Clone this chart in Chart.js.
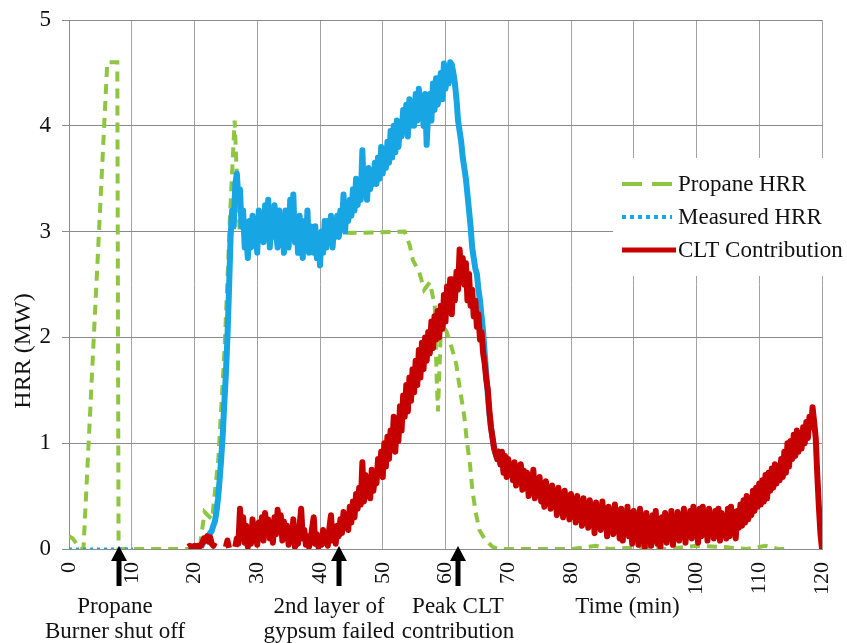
<!DOCTYPE html>
<html>
<head>
<meta charset="utf-8">
<title>HRR (MW)</title>
<script src="https://cdn.jsdelivr.net/npm/chart.js@4/dist/chart.umd.min.js"></script>
<style>
  html, body { margin: 0; padding: 0; background: #ffffff; }
  #wrap { width: 847px; height: 643px; }
</style>
</head>
<body>
<div id="wrap"><canvas id="hrr" width="847" height="643"></canvas></div>
<script>
// ---- Series names and axis text ----
const seriesNames = ['Propane HRR', 'Measured HRR', 'CLT Contribution'];
const xTitle = 'Time (min)';
const yTitle = 'HRR (MW)';
const xTicks = [0, 10, 20, 30, 40, 50, 60, 70, 80, 90, 100, 110, 120];
const yTicks = [0, 1, 2, 3, 4, 5];

// ---- Propane burner output (MW) at the listed times (min) ----
const propaneTime = [0, 0.6, 1.2, 1.8, 2.3, 6.1, 7.7, 7.9,
  20.8, 21.6, 22.8, 23.8, 24.8, 25.7, 26.4, 26.8, 27.2, 40, 53.5,
  54.3, 54.8, 55.8, 56.6, 57.5, 58.3, 58.6, 58.8, 59.3,
  60.2, 61.0, 61.7, 62.2, 62.6, 63.0, 63.4, 63.9, 64.3, 64.8, 65.4, 66.2, 67.5, 68.5,
  80, 84, 86, 92, 95, 100, 104, 108, 111, 113, 115];
const propaneValues = [0.12, 0.10, 0.05, 0.0, 0.0, 4.6, 4.6, 0.0,
  0.0, 0.35, 0.28, 0.85, 1.9, 3.2, 4.05, 3.45, 3.0, 2.98, 3.0,
  2.87, 2.73, 2.62, 2.45, 2.52, 2.3, 1.6, 1.3, 2.15,
  2.05, 1.9, 1.75, 1.55, 1.4, 1.25, 1.02, 0.8, 0.55, 0.35, 0.18, 0.1, 0.02, 0.0,
  0.0, 0.03, 0.0, 0.02, 0.0, 0.03, 0.02, 0.0, 0.03, 0.0, 0.0];

// ---- Measured HRR (MW) ----
// before ignition of the room: flat reading
const measuredEarlyTime = [0, 10.2];
const measuredEarlyValues = [0, 0];
// from 21 min on, sampled every 0.25 min
const measuredStart = 21;
const measuredStep = 0.25;
const measuredValues = [
  0.02, 0.04, 0.07, 0.09, 0.11, 0.13, 0.15, 0.17,   // 21
  0.22, 0.26, 0.35, 0.48, 0.65, 0.85, 1.08, 1.38,   // 23
  1.65, 2.00, 2.45, 2.95, 3.20, 3.05, 3.45, 3.55,   // 25
  3.30, 3.40, 3.05, 3.20, 2.85, 2.95, 2.75, 3.10,   // 27
  2.85, 3.15, 2.90, 3.00, 2.80, 3.20, 2.95, 3.10,   // 29
  2.90, 3.25, 3.00, 3.30, 2.85, 3.15, 2.95, 3.25,   // 31
  3.00, 2.85, 3.20, 2.90, 3.10, 2.80, 3.20, 3.00,   // 33
  2.85, 3.30, 3.05, 3.35, 2.90, 3.10, 2.80, 3.15,   // 35
  2.90, 2.75, 3.10, 2.85, 3.20, 2.80, 3.05, 2.90,   // 37
  2.80, 3.05, 2.75, 2.95, 2.68, 3.00, 2.80, 3.10,   // 39
  2.85, 3.10, 2.90, 3.15, 2.85, 3.05, 2.95, 3.15,   // 41
  2.95, 3.20, 3.05, 3.35, 3.00, 3.25, 3.10, 3.30,   // 43
  3.15, 3.40, 3.20, 3.50, 3.25, 3.45, 3.30, 3.77,   // 45
  3.35, 3.55, 3.30, 3.60, 3.40, 3.50, 3.45, 3.65,   // 47
  3.45, 3.70, 3.50, 3.80, 3.55, 3.75, 3.60, 3.85,   // 49
  3.65, 3.95, 3.70, 4.00, 3.75, 4.05, 3.80, 4.00,   // 51
  3.90, 4.15, 3.95, 4.20, 3.90, 4.25, 4.00, 4.20,   // 53
  4.00, 4.30, 4.05, 4.35, 4.10, 4.25, 4.00, 4.30,   // 55
  3.82, 4.15, 4.30, 4.05, 4.40, 4.15, 4.45, 4.20,   // 57
  4.30, 4.50, 4.25, 4.59, 4.35, 4.55, 4.40, 4.60,   // 59
  4.58, 4.50, 4.40, 4.25, 4.05, 3.95, 3.85, 3.70,   // 61
  3.60, 3.50, 3.35, 3.20, 3.05, 2.85, 2.75, 2.65,   // 63
  2.60, 2.45, 2.35, 2.20, 2.05, 1.85, 1.65, 1.45,   // 65
  1.28, 1.15, 1.05, 0.95, 0.90, 0.85, 0.92, 0.80,   // 67
  0.90, 0.75, 0.85, 0.70, 0.82                      // 69 - 70
];

// ---- CLT contribution (MW), sampled every 0.25 min from t = 19 ----
const cltStart = 19;
const cltStep = 0.25;
const cltValues = [
  0.02, 0.03, 0.02, 0.02, 0.03, 0.02, 0.03, 0.02,   // 19
  0.03, 0.06, 0.10, 0.08, 0.12, 0.07, 0.11, 0.05,   // 21
  0.03, 0.06, null, null, null, null, null, null,   // 23
  0.02, 0.08, 0.01, null, null, null, 0.02, 0.10,   // 25
  0.05, 0.38, 0.12, 0.30, 0.06, 0.22, 0.02, 0.18,   // 27
  0.05, 0.28, 0.10, 0.20, 0.04, 0.25, 0.12, 0.30,   // 29
  0.08, 0.34, 0.18, 0.28, 0.10, 0.22, 0.06, 0.30,   // 31
  0.14, 0.37, 0.20, 0.32, 0.08, 0.26, 0.12, 0.22,   // 33
  0.04, 0.20, 0.08, 0.28, 0.02, 0.15, 0.05, 0.22,   // 35
  0.38, 0.10, 0.18, 0.04, 0.12, 0.02, 0.08, 0.20,   // 37
  0.30, 0.05, 0.14, 0.02, 0.10, 0.04, 0.18, 0.06,   // 39
  0.12, 0.03, 0.20, 0.32, 0.08, 0.18, 0.05, 0.22,   // 41
  0.12, 0.28, 0.15, 0.35, 0.20, 0.30, 0.18, 0.40,   // 43
  0.25, 0.45, 0.30, 0.52, 0.38, 0.58, 0.42, 0.82,   // 45
  0.45, 0.70, 0.50, 0.65, 0.48, 0.75, 0.55, 0.68,   // 47
  0.62, 0.85, 0.70, 0.92, 0.68, 1.00, 0.78, 1.06,   // 49
  0.85, 1.12, 0.95, 1.25, 0.92, 1.20, 1.02, 1.35,   // 51
  1.12, 1.45, 1.25, 1.55, 1.30, 1.62, 1.40, 1.70,   // 53
  1.48, 1.78, 1.55, 1.88, 1.62, 1.95, 1.70, 2.00,   // 55
  1.78, 2.05, 1.85, 2.15, 1.90, 2.20, 1.98, 2.25,   // 57
  2.00, 2.30, 2.08, 2.40, 2.15, 2.48, 2.25, 2.55,   // 59
  2.22, 2.55, 2.35, 2.62, 2.45, 2.83, 2.55, 2.75,   // 61
  2.50, 2.70, 2.35, 2.60, 2.30, 2.45, 2.20, 2.35,   // 63
  2.10, 2.22, 1.98, 2.05, 1.85, 1.75, 1.60, 1.50,   // 65
  1.30, 1.15, 1.05, 0.95, 0.90, 0.85, 0.92, 0.80,   // 67
  0.92, 0.72, 0.88, 0.68, 0.85, 0.70, 0.80, 0.65,   // 69
  0.82, 0.60, 0.78, 0.62, 0.80, 0.56, 0.74, 0.58,   // 71
  0.72, 0.50, 0.68, 0.55, 0.75, 0.48, 0.66, 0.52,   // 73
  0.68, 0.45, 0.62, 0.40, 0.64, 0.48, 0.58, 0.38,   // 75
  0.60, 0.42, 0.55, 0.32, 0.58, 0.40, 0.52, 0.30,   // 77
  0.55, 0.36, 0.50, 0.28, 0.52, 0.34, 0.46, 0.25,   // 79
  0.50, 0.30, 0.45, 0.22, 0.48, 0.32, 0.42, 0.20,   // 81
  0.46, 0.28, 0.40, 0.15, 0.44, 0.25, 0.38, 0.18,   // 83
  0.45, 0.22, 0.38, 0.12, 0.40, 0.20, 0.35, 0.14,   // 85
  0.42, 0.18, 0.36, 0.10, 0.38, 0.08, 0.32, 0.15,   // 87
  0.40, 0.12, 0.34, 0.05, 0.36, 0.14, 0.30, 0.04,   // 89
  0.38, 0.10, 0.30, 0.02, 0.34, 0.12, 0.28, 0.03,   // 91
  0.32, 0.08, 0.36, 0.05, 0.28, 0.02, 0.30, 0.10,   // 93
  0.34, 0.06, 0.30, 0.12, 0.36, 0.04, 0.28, 0.10,   // 95
  0.35, 0.08, 0.32, 0.15, 0.38, 0.06, 0.30, 0.12,   // 97
  0.36, 0.10, 0.40, 0.15, 0.34, 0.06, 0.38, 0.12,   // 99
  0.40, 0.14, 0.35, 0.08, 0.38, 0.16, 0.32, 0.10,   // 101
  0.36, 0.12, 0.38, 0.08, 0.34, 0.15, 0.30, 0.10,   // 103
  0.38, 0.12, 0.40, 0.18, 0.35, 0.10, 0.36, 0.20,   // 105
  0.42, 0.22, 0.46, 0.25, 0.50, 0.28, 0.48, 0.32,   // 107
  0.55, 0.36, 0.58, 0.40, 0.62, 0.42, 0.65, 0.45,   // 109
  0.70, 0.48, 0.72, 0.55, 0.76, 0.58, 0.80, 0.62,   // 111
  0.78, 0.65, 0.85, 0.68, 0.92, 0.72, 1.00, 0.78,   // 113
  1.02, 0.85, 1.08, 0.88, 1.12, 0.92, 1.05, 0.95,   // 115
  1.15, 1.00, 1.20, 1.05, 1.25, 1.15, 1.34, 1.20,   // 117
  1.05, 0.70, 0.40, 0.15, 0.00                      // 119 - 120
];

// ---- Test events marked under the time axis ----
const eventTimes = [8, 43, 62];
const eventLabels = [
  ['Propane', 'Burner shut off'],
  ['2nd layer of', 'gypsum failed'],
  ['Peak CLT', 'contribution']
];

// ---- Styling ----
const SERIF = '"Liberation Serif", "Times New Roman", serif';
const colGreen = '#8fc641';
const colBlue = '#17a5e3';
const colRed = '#c60000';
const inkColor = '#111111';

const propanePts = propaneTime.map((t, i) => ({ x: t, y: propaneValues[i] }));
const measuredPts = measuredEarlyTime.map((t, i) => ({ x: t, y: measuredEarlyValues[i] }))
  .concat([{ x: 15, y: null }])
  .concat(measuredValues.map((v, i) => ({ x: measuredStart + i * measuredStep, y: v })));
const cltPts = cltValues.map((v, i) => ({ x: cltStart + i * cltStep, y: v }));

// Legend samples drawn in a white box on the right of the plot
const legendStyles = [
  { color: colGreen, width: 4, dash: [20, 10] },
  { color: colBlue, width: 4, dash: [4, 4] },
  { color: colRed, width: 5, dash: [] }
];

const overlay = {
  id: 'overlay',
  afterDraw(chart) {
    const { ctx, scales: { x } } = chart;
    ctx.save();
    ctx.fillStyle = inkColor;

    // vertical axis title
    ctx.save();
    ctx.font = '24px ' + SERIF;
    ctx.translate(24, 351);
    ctx.rotate(-Math.PI / 2);
    ctx.textAlign = 'center';
    ctx.textBaseline = 'middle';
    ctx.fillText(yTitle, 0, 0);
    ctx.restore();

    // horizontal axis title
    ctx.font = '23px ' + SERIF;
    ctx.textAlign = 'center';
    ctx.textBaseline = 'middle';
    ctx.fillText(xTitle, x.getPixelForValue(89), 607);

    // event arrows with their captions
    const captionShift = [-4, -10, 0];
    eventTimes.forEach((t, i) => {
      const px = Math.round(x.getPixelForValue(t));
      ctx.fillStyle = '#000000';
      ctx.beginPath();
      ctx.moveTo(px, 546);
      ctx.lineTo(px - 8, 561);
      ctx.lineTo(px + 8, 561);
      ctx.closePath();
      ctx.fill();
      ctx.fillRect(px - 2.5, 558, 5, 28);
      ctx.fillStyle = inkColor;
      eventLabels[i].forEach((line, k) => {
        ctx.fillText(line, px + captionShift[i], 607 + k * 25);
      });
    });

    // legend
    const lx = 613, ly = 158;
    ctx.fillStyle = '#ffffff';
    ctx.fillRect(lx, ly, 847 - lx, 118);
    const rows = [184, 217, 250];
    chart.data.datasets.forEach((ds, i) => {
      const st = legendStyles[i];
      ctx.save();
      ctx.strokeStyle = st.color;
      ctx.lineWidth = st.width;
      ctx.setLineDash(st.dash);
      ctx.beginPath();
      ctx.moveTo(622, rows[i]);
      ctx.lineTo(i === 2 ? 676 : 672, rows[i]);
      ctx.stroke();
      ctx.restore();
      ctx.fillStyle = inkColor;
      ctx.textAlign = 'left';
      ctx.textBaseline = 'middle';
      ctx.font = '23px ' + SERIF;
      ctx.fillText(ds.label, 678, rows[i] + 1);
    });
    ctx.restore();
  }
};

new Chart(document.getElementById('hrr'), {
  type: 'line',
  data: {
    datasets: [
      {
        label: seriesNames[0],
        data: propanePts,
        borderColor: colGreen,
        borderWidth: 4,
        borderDash: [10, 7],
        pointRadius: 0,
        tension: 0,
        order: 2
      },
      {
        label: seriesNames[1],
        data: measuredPts,
        borderColor: colBlue,
        borderWidth: 6,
        borderJoinStyle: 'round',
        pointRadius: 0,
        tension: 0,
        spanGaps: false,
        segment: {
          borderDash: c => (c.p0.parsed.y === 0 && c.p1.parsed.y === 0) ? [3, 4] : undefined,
          borderWidth: c => (c.p0.parsed.y === 0 && c.p1.parsed.y === 0) ? 3 : undefined
        },
        order: 1
      },
      {
        label: seriesNames[2],
        data: cltPts,
        borderColor: colRed,
        borderWidth: 6,
        borderJoinStyle: 'round',
        pointRadius: 0,
        tension: 0,
        spanGaps: false,
        order: 0
      }
    ]
  },
  options: {
    responsive: false,
    animation: false,
    events: [],
    layout: { padding: { top: 20, right: 25, left: 0, bottom: 0 } },
    plugins: { legend: { display: false }, tooltip: { enabled: false }, title: { display: false } },
    scales: {
      x: {
        type: 'linear',
        min: 0,
        max: 120,
        afterBuildTicks: s => { s.ticks = xTicks.map(v => ({ value: v })); },
        ticks: {
          minRotation: 90,
          maxRotation: 90,
          padding: 13,
          autoSkip: false,
          color: inkColor,
          font: { family: SERIF, size: 22 }
        },
        grid: { color: '#a3a3a3', lineWidth: 1, drawTicks: false },
        border: { color: '#8c8c8c' },
        afterFit: s => { s.height = 94; s.paddingLeft = 0; s.paddingRight = 0; }
      },
      y: {
        min: 0,
        max: 5,
        afterBuildTicks: s => { s.ticks = yTicks.map(v => ({ value: v })); },
        ticks: {
          padding: 11,
          color: inkColor,
          font: { family: SERIF, size: 23 }
        },
        grid: { color: '#8a8a8a', lineWidth: 1, tickLength: 7 },
        border: { color: '#8c8c8c' },
        afterFit: s => { s.width = 69; s.paddingTop = 0; s.paddingBottom = 0; }
      }
    }
  },
  plugins: [overlay]
});
</script>
</body>
</html>
